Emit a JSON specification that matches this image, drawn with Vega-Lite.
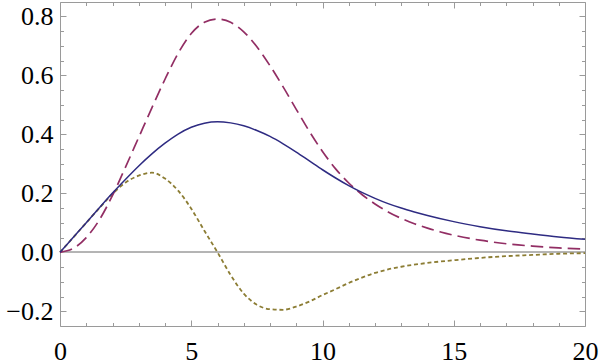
{
  "$schema": "https://vega.github.io/schema/vega-lite/v6.json",
  "width": 525,
  "height": 324,
  "autosize": "none",
  "padding": {"left": 60, "top": 2, "right": 15, "bottom": 38},
  "config": {
    "view": {"stroke": "#9a9a9a", "strokeWidth": 1},
    "axis": {
      "domain": false,
      "grid": false,
      "tickColor": "#9a9a9a",
      "tickWidth": 1,
      "labelFont": "Liberation Serif",
      "labelFontSize": 26,
      "labelColor": "#000000",
      "title": null
    }
  },
  "data": {
    "values": [
      {"x": 0, "s": "solid", "y": 0}, {"x": 0.5, "s": "solid", "y": 0.05}, {"x": 1, "s": "solid", "y": 0.1}, {"x": 1.5, "s": "solid", "y": 0.151}, {"x": 2, "s": "solid", "y": 0.201}, {"x": 2.5, "s": "solid", "y": 0.248}, {"x": 3, "s": "solid", "y": 0.293}, {"x": 3.5, "s": "solid", "y": 0.334}, {"x": 4, "s": "solid", "y": 0.37}, {"x": 4.5, "s": "solid", "y": 0.401}, {"x": 5, "s": "solid", "y": 0.424}, {"x": 5.5, "s": "solid", "y": 0.438}, {"x": 6, "s": "solid", "y": 0.443}, {"x": 6.5, "s": "solid", "y": 0.439}, {"x": 7, "s": "solid", "y": 0.429}, {"x": 7.5, "s": "solid", "y": 0.413}, {"x": 8, "s": "solid", "y": 0.393}, {"x": 8.5, "s": "solid", "y": 0.368}, {"x": 9, "s": "solid", "y": 0.34}, {"x": 9.5, "s": "solid", "y": 0.31}, {"x": 10, "s": "solid", "y": 0.28}, {"x": 10.5, "s": "solid", "y": 0.252}, {"x": 11, "s": "solid", "y": 0.226}, {"x": 11.5, "s": "solid", "y": 0.203}, {"x": 12, "s": "solid", "y": 0.183}, {"x": 12.5, "s": "solid", "y": 0.165}, {"x": 13, "s": "solid", "y": 0.15}, {"x": 13.5, "s": "solid", "y": 0.137}, {"x": 14, "s": "solid", "y": 0.125}, {"x": 15, "s": "solid", "y": 0.104}, {"x": 16, "s": "solid", "y": 0.087}, {"x": 17, "s": "solid", "y": 0.073}, {"x": 18, "s": "solid", "y": 0.062}, {"x": 19, "s": "solid", "y": 0.052}, {"x": 20, "s": "solid", "y": 0.044},

      {"x": 0, "s": "dashed", "y": 0}, {"x": 0.5, "s": "dashed", "y": 0.013}, {"x": 1, "s": "dashed", "y": 0.05}, {"x": 1.5, "s": "dashed", "y": 0.11}, {"x": 2, "s": "dashed", "y": 0.193}, {"x": 2.5, "s": "dashed", "y": 0.29}, {"x": 3, "s": "dashed", "y": 0.39}, {"x": 3.5, "s": "dashed", "y": 0.49}, {"x": 4, "s": "dashed", "y": 0.587}, {"x": 4.5, "s": "dashed", "y": 0.675}, {"x": 5, "s": "dashed", "y": 0.742}, {"x": 5.5, "s": "dashed", "y": 0.78}, {"x": 6, "s": "dashed", "y": 0.791}, {"x": 6.5, "s": "dashed", "y": 0.78}, {"x": 7, "s": "dashed", "y": 0.748}, {"x": 7.5, "s": "dashed", "y": 0.697}, {"x": 8, "s": "dashed", "y": 0.633}, {"x": 8.5, "s": "dashed", "y": 0.561}, {"x": 9, "s": "dashed", "y": 0.485}, {"x": 9.5, "s": "dashed", "y": 0.41}, {"x": 10, "s": "dashed", "y": 0.342}, {"x": 10.5, "s": "dashed", "y": 0.283}, {"x": 11, "s": "dashed", "y": 0.235}, {"x": 11.5, "s": "dashed", "y": 0.196}, {"x": 12, "s": "dashed", "y": 0.164}, {"x": 12.5, "s": "dashed", "y": 0.137}, {"x": 13, "s": "dashed", "y": 0.115}, {"x": 13.5, "s": "dashed", "y": 0.097}, {"x": 14, "s": "dashed", "y": 0.082}, {"x": 14.5, "s": "dashed", "y": 0.069}, {"x": 15, "s": "dashed", "y": 0.058}, {"x": 16, "s": "dashed", "y": 0.041}, {"x": 17, "s": "dashed", "y": 0.029}, {"x": 18, "s": "dashed", "y": 0.021}, {"x": 19, "s": "dashed", "y": 0.015}, {"x": 20, "s": "dashed", "y": 0.011},

      {"x": 0, "s": "dotted", "y": 0}, {"x": 0.5, "s": "dotted", "y": 0.05}, {"x": 1, "s": "dotted", "y": 0.1}, {"x": 1.5, "s": "dotted", "y": 0.15}, {"x": 2, "s": "dotted", "y": 0.198}, {"x": 2.5, "s": "dotted", "y": 0.237}, {"x": 3, "s": "dotted", "y": 0.26}, {"x": 3.5, "s": "dotted", "y": 0.27}, {"x": 4, "s": "dotted", "y": 0.25}, {"x": 4.5, "s": "dotted", "y": 0.209}, {"x": 5, "s": "dotted", "y": 0.148}, {"x": 5.5, "s": "dotted", "y": 0.073}, {"x": 6, "s": "dotted", "y": 0}, {"x": 6.5, "s": "dotted", "y": -0.077}, {"x": 7, "s": "dotted", "y": -0.14}, {"x": 7.5, "s": "dotted", "y": -0.178}, {"x": 8, "s": "dotted", "y": -0.193}, {"x": 8.5, "s": "dotted", "y": -0.195}, {"x": 9, "s": "dotted", "y": -0.184}, {"x": 9.5, "s": "dotted", "y": -0.167}, {"x": 10, "s": "dotted", "y": -0.145}, {"x": 10.5, "s": "dotted", "y": -0.125}, {"x": 11, "s": "dotted", "y": -0.104}, {"x": 11.5, "s": "dotted", "y": -0.086}, {"x": 12, "s": "dotted", "y": -0.07}, {"x": 12.5, "s": "dotted", "y": -0.058}, {"x": 13, "s": "dotted", "y": -0.049}, {"x": 14, "s": "dotted", "y": -0.036}, {"x": 15, "s": "dotted", "y": -0.027}, {"x": 16, "s": "dotted", "y": -0.019}, {"x": 17, "s": "dotted", "y": -0.013}, {"x": 18, "s": "dotted", "y": -0.009}, {"x": 19, "s": "dotted", "y": -0.005}, {"x": 20, "s": "dotted", "y": -0.003}
    ]
  },
  "resolve": {"axis": {"x": "independent", "y": "independent"}},
  "layer": [
    {
      "mark": {"type": "rule", "color": "#b4b4b4", "strokeWidth": 1},
      "encoding": {
        "x": {"datum": 0, "type": "quantitative", "scale": {"domain": [0, 20], "nice": false, "zero": false},
              "axis": {"orient": "top", "values": [1,2,3,4,6,7,8,9,11,12,13,14,16,17,18,19], "tickSize": -3.5, "labels": false}},
        "x2": {"datum": 20},
        "y": {"datum": 0, "type": "quantitative", "scale": {"domain": [-0.25, 0.849], "nice": false, "zero": false},
              "axis": {"orient": "right", "values": [-0.15,-0.1,-0.05,0.05,0.1,0.15,0.25,0.3,0.35,0.45,0.5,0.55,0.65,0.7,0.75], "tickSize": -3.5, "labels": false}}
      }
    },
    {
      "transform": [{"filter": "datum.s === 'dotted'"}],
      "mark": {"type": "line", "color": "#8c7d34", "strokeWidth": 1.8, "strokeDash": [4, 2.8], "interpolate": "monotone"},
      "encoding": {
        "x": {"field": "x", "type": "quantitative",
              "axis": {"orient": "bottom", "values": [1,2,3,4,6,7,8,9,11,12,13,14,16,17,18,19], "tickSize": -3.5, "labels": false}},
        "y": {"field": "y", "type": "quantitative",
              "axis": {"orient": "left", "values": [-0.15,-0.1,-0.05,0.05,0.1,0.15,0.25,0.3,0.35,0.45,0.5,0.55,0.65,0.7,0.75], "tickSize": -3.5, "labels": false}}
      }
    },
    {
      "transform": [{"filter": "datum.s === 'dashed'"}],
      "mark": {"type": "line", "color": "#922e64", "strokeWidth": 1.7, "strokeDash": [12.5, 6], "interpolate": "monotone"},
      "encoding": {
        "x": {"field": "x", "type": "quantitative",
              "axis": {"orient": "top", "values": [0, 5, 10, 15, 20], "tickSize": -6, "labels": false}},
        "y": {"field": "y", "type": "quantitative",
              "axis": {"orient": "right", "values": [-0.2, 0, 0.2, 0.4, 0.6, 0.8], "tickSize": -6, "labels": false}}
      }
    },
    {
      "transform": [{"filter": "datum.s === 'solid'"}],
      "mark": {"type": "line", "color": "#2e2b82", "strokeWidth": 1.5, "interpolate": "monotone"},
      "encoding": {
        "x": {"field": "x", "type": "quantitative",
              "axis": {"orient": "bottom", "values": [0, 5, 10, 15, 20], "tickSize": -6, "labelPadding": 18, "format": "d", "labelFlush": false}},
        "y": {"field": "y", "type": "quantitative",
              "axis": {"orient": "left", "values": [-0.2, 0, 0.2, 0.4, 0.6, 0.8], "tickSize": -6, "labelPadding": 13, "format": ".1f"}}
      }
    }
  ]
}
